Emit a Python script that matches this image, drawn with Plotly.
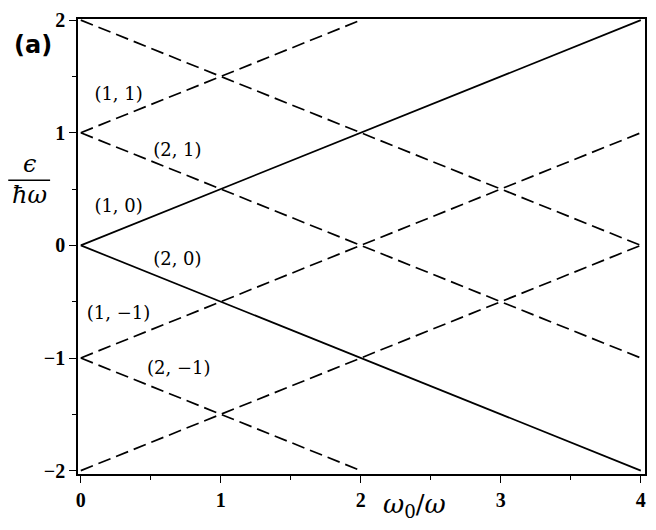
import plotly.graph_objects as go

# Level lines
solid_x = [[0, 4], [0, 4]]
solid_y = [[0, 2], [0, -2]]
dashed_x = [[0, 2], [0, 4], [0, 4], [0, 4], [0, 2], [0, 4]]
dashed_y = [[1, 2], [1, -1], [2, 0], [-1, 1], [-1, -2], [-2, 0]]

label_text = ["(1, 1)", "(2, 1)", "(1, 0)", "(2, 0)", "(1, −1)", "(2, −1)"]
label_x = [0.27, 0.69, 0.27, 0.69, 0.27, 0.70]
label_y = [1.33, 0.83, 0.34, -0.13, -0.61, -1.10]

x_ticks = [0, 1, 2, 3, 4]
y_ticks = [-2, -1, 0, 1, 2]
y_ticklabels = ["−2", "−1", "0", "1", "2"]

fig = go.Figure()
for xs, ys in zip(solid_x, solid_y):
    fig.add_trace(go.Scatter(x=xs, y=ys, mode="lines",
                             line=dict(color="black", width=1.7),
                             hoverinfo="skip", showlegend=False))
for xs, ys in zip(dashed_x, dashed_y):
    fig.add_trace(go.Scatter(x=xs, y=ys, mode="lines",
                             line=dict(color="black", width=1.7, dash="13px,6px"),
                             hoverinfo="skip", showlegend=False))

fig.add_trace(go.Scatter(x=label_x, y=label_y, mode="text", text=label_text,
                         textfont=dict(family="DejaVu Serif", size=18, color="black"),
                         hoverinfo="skip", showlegend=False))

axis_common = dict(showgrid=False, zeroline=False, showline=True, linecolor="black",
                   linewidth=1.5, mirror=True, ticks="outside", ticklen=7,
                   tickcolor="black", tickwidth=1.2,
                   tickfont=dict(family="Liberation Serif", size=20, color="black"))

fig.update_xaxes(range=[-0.02, 4.03], tickvals=x_ticks,
                 ticktext=["<b>%d</b>" % v for v in x_ticks],
                 minor=dict(dtick=0.5, ticks="outside", ticklen=4, tickcolor="black"),
                 **axis_common)
fig.update_yaxes(range=[-2.03, 2.01], tickvals=y_ticks,
                 ticktext=["<b>%s</b>" % t for t in y_ticklabels],
                 minor=dict(dtick=0.5, ticks="outside", ticklen=4, tickcolor="black"),
                 **axis_common)

fig.add_annotation(xref="paper", yref="paper", x=(416 - 78) / 569, y=(474 - 506) / 460,
                   text="<i>ω</i><sub>0</sub>/<i>ω</i>", showarrow=False,
                   font=dict(family="DejaVu Serif", size=26, color="black"),
                   xanchor="center", yanchor="middle")

# y label as a fraction epsilon / (hbar omega)
fig.add_annotation(xref="paper", yref="paper", x=(29 - 78) / 569, y=(474 - 161) / 460,
                   text="<i>ϵ</i>", showarrow=False,
                   font=dict(family="DejaVu Serif", size=24, color="black"),
                   xanchor="center", yanchor="middle")
fig.add_annotation(xref="paper", yref="paper", x=(29 - 78) / 569, y=(474 - 192) / 460,
                   text="<i>ħω</i>", showarrow=False,
                   font=dict(family="DejaVu Serif", size=24, color="black"),
                   xanchor="center", yanchor="middle")
fig.add_shape(type="line", xref="paper", yref="paper",
              x0=(8 - 78) / 569, x1=(50 - 78) / 569,
              y0=(474 - 177) / 460, y1=(474 - 177) / 460,
              line=dict(color="black", width=1.5))

fig.add_annotation(xref="paper", yref="paper", x=(33 - 78) / 569, y=(474 - 40) / 460,
                   text="<b>(a)</b>", showarrow=False,
                   font=dict(family="DejaVu Sans", size=24, color="black"),
                   xanchor="center", yanchor="middle")

fig.update_layout(width=656, height=530, plot_bgcolor="white", paper_bgcolor="white",
                  margin=dict(l=78, r=9, t=14, b=56))

fig.write_html("out.html", config={"displayModeBar": False},
               post_script="document.body.style.margin='0';document.body.style.padding='0';")
